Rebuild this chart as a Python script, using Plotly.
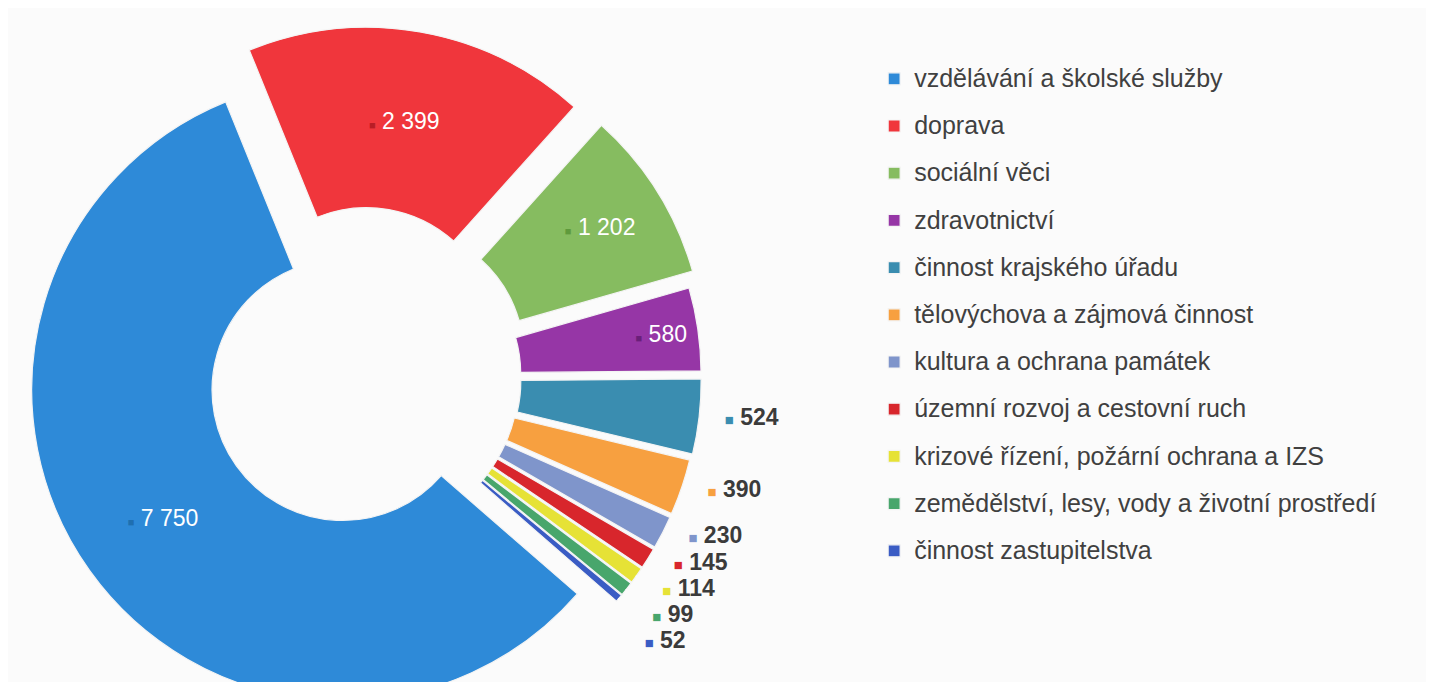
import plotly.graph_objects as go

categories = [
    "vzdělávání a školské služby",
    "doprava",
    "sociální věci",
    "zdravotnictví",
    "činnost krajského úřadu",
    "tělovýchova a zájmová činnost",
    "kultura a ochrana památek",
    "územní rozvoj a cestovní ruch",
    "krizové řízení, požární ochrana a IZS",
    "zemědělství, lesy, vody a životní prostředí",
    "činnost zastupitelstva",
]
values = [7750, 2399, 1202, 580, 524, 390, 230, 145, 114, 99, 52]
colors = ["#2e8ad8", "#f0363c", "#86bc60", "#9636a6", "#3a8db0", "#f7a040",
          "#7f95cb", "#d8262c", "#e6e236", "#48a66c", "#3a5cc4"]
key_colors = ["#1f6fb0", "#b81d25", "#5f9a3c", "#6a1f7a", "#2f7a98", "#e08a20",
              "#6a7fb8", "#c02025", "#c8c820", "#2f9050", "#3050b8"]
pulls = [0.066, 0.13, 0.13, 0.10, 0.10, 0.095, 0.095, 0.095, 0.095, 0.095, 0.095]
inside = [True, True, True, True, False, False, False, False, False, False, False]

def fmt(v):
    return f"{v:,}".replace(",", " ")

NB = "\u00a0"
texts = []
positions = []
for v, c, kc, ins in zip(values, colors, key_colors, inside):
    if ins:
        texts.append(f'<span style="font-size:11px;color:{kc}">■</span> {fmt(v)}')
        positions.append("inside")
    else:
        texts.append(
            f'<span style="color:#3b3b3b">{NB * 3}'
            f'<span style="font-size:15px;color:{c}">■</span> <b>{fmt(v)}</b></span>'
        )
        positions.append("outside")

legend_labels = [f'<span style="font-size:25px;baseline-shift:5px">{c}</span>' for c in categories]

fig = go.Figure(go.Pie(
    labels=legend_labels,
    values=values,
    text=texts,
    textinfo="text",
    textposition=positions,
    insidetextorientation="horizontal",
    insidetextfont=dict(color="white", size=23, family="Liberation Sans, Arial, sans-serif"),
    outsidetextfont=dict(color="#fbfbfb", size=23, family="Liberation Sans, Arial, sans-serif"),
    hole=0.42,
    pull=pulls,
    sort=False,
    direction="clockwise",
    rotation=131,
    automargin=False,
    marker=dict(colors=colors, line=dict(color="#f4f4f4", width=1.2)),
    domain=dict(x=[0.0, 0.49], y=[0, 1]),
    hoverinfo="value+percent",
))
fig.update_layout(
    width=1434, height=740,
    margin=dict(l=0, r=0, t=0, b=0, autoexpand=False),
    paper_bgcolor="#fbfbfb",
    plot_bgcolor="#fbfbfb",
    showlegend=True,
    legend=dict(
        x=0.604, y=0.943, xanchor="left", yanchor="top",
        font=dict(size=34, color="#404040", family="Liberation Sans, Arial, sans-serif"),
        itemwidth=30,
        bgcolor="rgba(0,0,0,0)",
    ),
)

fig.write_html("out.html")
